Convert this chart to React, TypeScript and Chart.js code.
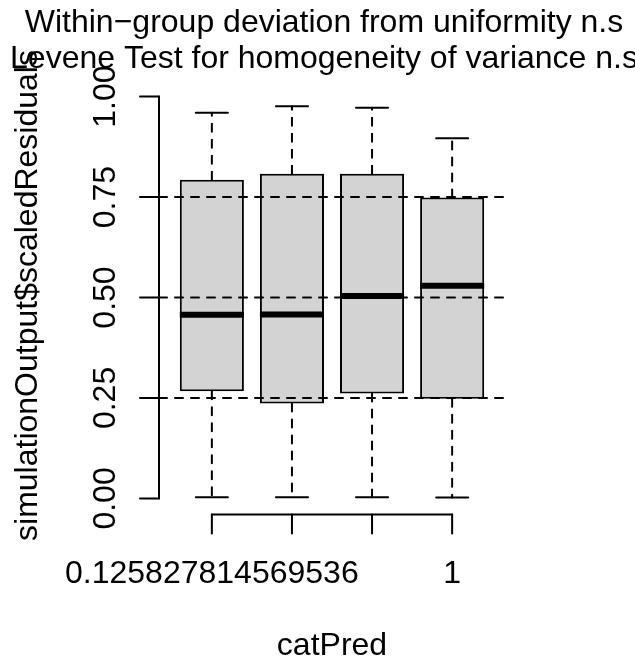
import React, { useEffect, useRef } from "react";
import { Chart, registerables } from "chart.js";

Chart.register(...registerables);

// ---- data ----
const mainTitle = [
  "Within\u2212group deviation from uniformity n.s",
  "Levene Test for homogeneity of variance n.s",
];
const xAxisTitle = "catPred";
const yAxisTitle = "simulationOutput$scaledResiduals";
const groupPositions = [1, 2, 3, 4];
const xTickLabels = ["0.125827814569536", "", "", "1"];
const lowerWhisker = [0.003, 0.003, 0.003, 0.002];
const lowerQuartile = [0.267, 0.236, 0.261, 0.248];
const medians = [0.457, 0.458, 0.504, 0.529];
const upperQuartile = [0.793, 0.808, 0.808, 0.749];
const upperWhisker = [0.96, 0.976, 0.972, 0.896];
const yTicks = [0, 0.25, 0.5, 0.75, 1];
const yTickLabels = ["0.00", "0.25", "0.50", "0.75", "1.00"];
const referenceLines = [0.25, 0.5, 0.75];

const FONT = "32px 'Liberation Sans', Arial, sans-serif";

function seg(ctx: CanvasRenderingContext2D, x1: number, y1: number, x2: number, y2: number) {
  ctx.beginPath();
  ctx.moveTo(x1, y1);
  ctx.lineTo(x2, y2);
  ctx.stroke();
}

const rBoxplotPlugin = {
  id: "rBoxplot",
  beforeDraw(chart: any) {
    const ctx = chart.ctx;
    ctx.save();
    ctx.fillStyle = "#ffffff";
    ctx.fillRect(0, 0, chart.width, chart.height);
    ctx.restore();
  },
  afterDatasetsDraw(chart: any) {
    const ctx: CanvasRenderingContext2D = chart.ctx;
    const area = chart.chartArea;
    const xs = chart.scales.x;
    const ys = chart.scales.y;
    const X = (v: number) => xs.getPixelForValue(v);
    const Y = (v: number) => ys.getPixelForValue(v);
    ctx.save();
    ctx.strokeStyle = "#000000";
    ctx.fillStyle = "#000000";

    // whiskers, staples, medians
    groupPositions.forEach((p, i) => {
      const px = X(p);
      ctx.lineWidth = 2;
      ctx.lineCap = "round";
      ctx.setLineDash([8, 8]);
      seg(ctx, px, Y(lowerQuartile[i]), px, Y(lowerWhisker[i]));
      seg(ctx, px, Y(upperQuartile[i]), px, Y(upperWhisker[i]));
      ctx.setLineDash([]);
      seg(ctx, X(p - 0.2), Y(lowerWhisker[i]), X(p + 0.2), Y(lowerWhisker[i]));
      seg(ctx, X(p - 0.2), Y(upperWhisker[i]), X(p + 0.2), Y(upperWhisker[i]));
      ctx.lineWidth = 6;
      ctx.lineCap = "butt";
      seg(ctx, X(p - 0.4), Y(medians[i]), X(p + 0.4), Y(medians[i]));
    });

    // reference lines
    ctx.lineWidth = 2;
    ctx.lineCap = "round";
    ctx.setLineDash([8, 8]);
    referenceLines.forEach((v) => {
      seg(ctx, area.left, Y(v), area.right, Y(v));
    });
    ctx.setLineDash([]);

    // y axis
    const tick = 19;
    seg(ctx, area.left, Y(yTicks[0]), area.left, Y(yTicks[yTicks.length - 1]));
    yTicks.forEach((v) => seg(ctx, area.left, Y(v), area.left - tick, Y(v)));

    // x axis
    const axY = area.bottom;
    seg(ctx, X(groupPositions[0]), axY, X(groupPositions[groupPositions.length - 1]), axY);
    groupPositions.forEach((p) => seg(ctx, X(p), axY, X(p), axY + tick));

    // text
    ctx.font = FONT;
    ctx.textBaseline = "alphabetic";
    ctx.textAlign = "center";
    yTicks.forEach((v, i) => {
      ctx.save();
      ctx.translate(area.left - 44, Y(v));
      ctx.rotate(-Math.PI / 2);
      ctx.fillText(yTickLabels[i], 0, 0);
      ctx.restore();
    });
    groupPositions.forEach((p, i) => {
      if (xTickLabels[i]) ctx.fillText(xTickLabels[i], X(p), axY + 68.5);
    });
    ctx.fillText(xAxisTitle, (area.left + area.right) / 2, axY + 140.5);
    ctx.save();
    ctx.translate(area.left - 122, (area.top + area.bottom) / 2 - 2);
    ctx.rotate(-Math.PI / 2);
    ctx.fillText(yAxisTitle, 0, 0);
    ctx.restore();

    ctx.fillText(mainTitle[0], 324, 32);
    ctx.fillText(mainTitle[1], 324, 68);
    ctx.restore();
  },
};

export default function App() {
  const ref = useRef<HTMLCanvasElement | null>(null);
  useEffect(() => {
    if (!ref.current) return;
    const chart = new Chart(ref.current, {
      type: "bar",
      data: {
        datasets: [
          {
            data: groupPositions.map((p, i) => ({ x: p, y: [lowerQuartile[i], upperQuartile[i]] })) as any,
            backgroundColor: "#D3D3D3",
            borderColor: "#000000",
            borderWidth: 2,
            borderSkipped: false,
            categoryPercentage: 0.8,
            barPercentage: 1,
          },
        ],
      },
      options: {
        animation: false,
        responsive: false,
        devicePixelRatio: 1,
        layout: { padding: { left: 159, right: 130, top: 80.5, bottom: 149.5 } },
        plugins: { legend: { display: false }, title: { display: false }, tooltip: { enabled: false } },
        scales: {
          x: {
            type: "linear",
            min: 0.34,
            max: 4.66,
            offset: false,
            display: false,
            grid: { offset: false },
            afterBuildTicks: (scale: any) => {
              scale.ticks = groupPositions.map((v) => ({ value: v }));
            },
          },
          y: { type: "linear", min: -0.04, max: 1.04, display: false },
        },
      },
      plugins: [rBoxplotPlugin],
    });
    return () => chart.destroy();
  }, []);
  return (
    <div style={{ position: "fixed", left: 0, top: 0, width: 635, height: 664, background: "#fff" }}>
      <canvas ref={ref} width={635} height={664} style={{ display: "block", width: 635, height: 664 }} />
    </div>
  );
}
